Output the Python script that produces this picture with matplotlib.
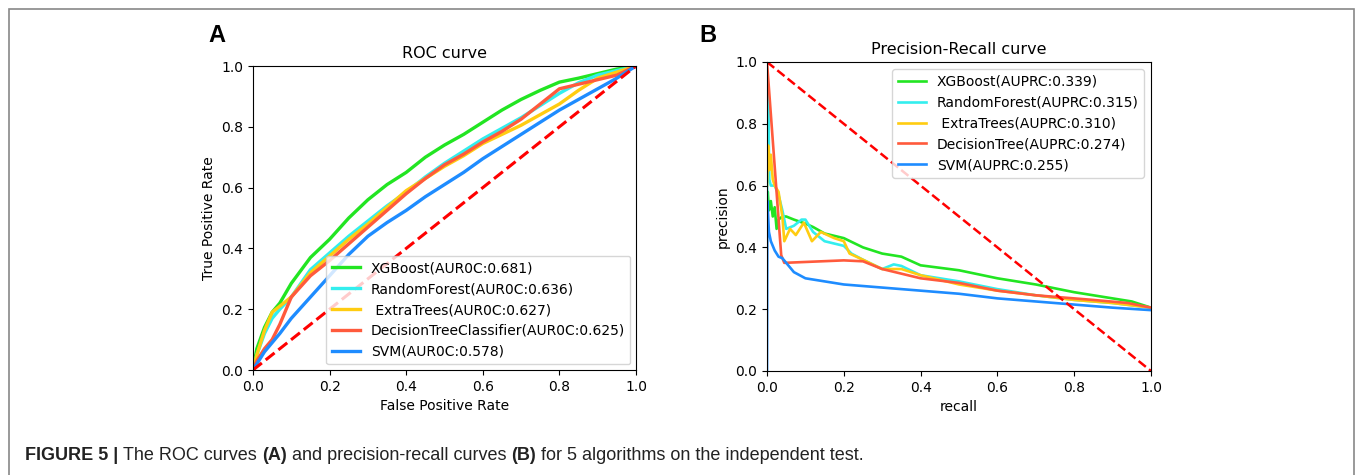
# ROC and precision-recall curves for 5 classifiers (figure 5 re-draw)

import matplotlib
matplotlib.use("Agg")
import matplotlib.pyplot as plt
from matplotlib.patches import Rectangle

# ----------------------------------------------------------------
# data
models_roc = ["XGBoost(AUR0C:0.681)", "RandomForest(AUR0C:0.636)",
              " ExtraTrees(AUR0C:0.627)", "DecisionTreeClassifier(AUR0C:0.625)",
              "SVM(AUR0C:0.578)"]
models_pr = ["XGBoost(AUPRC:0.339)", "RandomForest(AUPRC:0.315)",
             " ExtraTrees(AUPRC:0.310)", "DecisionTree(AUPRC:0.274)",
             "SVM(AUPRC:0.255)"]
colors = ["#22e522", "#33eeee", "#ffcc11", "#ff5a3c", "#1e8cff"]

fpr = [0, 0.01, 0.03, 0.05, 0.07, 0.1, 0.15, 0.2, 0.25, 0.3, 0.35, 0.4,
       0.45, 0.5, 0.55, 0.6, 0.65, 0.7, 0.75, 0.8, 0.85, 0.9, 0.95, 1.0]
tpr_xgb = [0, 0.07, 0.14, 0.19, 0.22, 0.285, 0.37, 0.43, 0.5, 0.56, 0.61, 0.65,
           0.70, 0.74, 0.775, 0.815, 0.855, 0.89, 0.92, 0.947, 0.96, 0.975, 0.99, 1.0]
tpr_rf = [0, 0.05, 0.12, 0.17, 0.2, 0.24, 0.33, 0.385, 0.44, 0.49, 0.54, 0.585,
          0.635, 0.68, 0.72, 0.76, 0.795, 0.83, 0.87, 0.91, 0.945, 0.97, 0.985, 1.0]
tpr_et = [0, 0.05, 0.13, 0.19, 0.21, 0.24, 0.32, 0.375, 0.43, 0.48, 0.535, 0.59,
          0.63, 0.67, 0.705, 0.745, 0.775, 0.805, 0.84, 0.875, 0.92, 0.96, 0.98, 1.0]
tpr_dt = [0, 0.03, 0.07, 0.10, 0.15, 0.24, 0.31, 0.36, 0.415, 0.47, 0.525, 0.58,
          0.63, 0.675, 0.71, 0.75, 0.785, 0.825, 0.875, 0.925, 0.94, 0.955, 0.97, 1.0]
tpr_svm = [0, 0.02, 0.06, 0.09, 0.12, 0.17, 0.24, 0.31, 0.38, 0.44, 0.485, 0.525,
           0.57, 0.61, 0.65, 0.695, 0.735, 0.775, 0.815, 0.855, 0.89, 0.925, 0.96, 1.0]

rec_xgb = [0, 0.002, 0.005, 0.01, 0.015, 0.02, 0.025, 0.03, 0.04, 0.05, 0.07, 0.1, 0.12,
           0.15, 0.2, 0.25, 0.3, 0.35, 0.4, 0.5, 0.6, 0.7, 0.8, 0.9, 0.95, 1.0]
prec_xgb = [0.5, 0.58, 0.52, 0.55, 0.5, 0.53, 0.46, 0.49, 0.5, 0.5, 0.49, 0.477, 0.466,
            0.445, 0.43, 0.40, 0.38, 0.37, 0.342, 0.326, 0.30, 0.28, 0.255, 0.235, 0.225, 0.205]
rec_rf = [0, 0.003, 0.006, 0.01, 0.02, 0.03, 0.04, 0.05, 0.07, 0.09, 0.1, 0.12, 0.15,
          0.2, 0.22, 0.25, 0.3, 0.33, 0.35, 0.4, 0.5, 0.6, 0.7, 0.8, 0.9, 1.0]
prec_rf = [0.55, 0.9, 0.62, 0.6, 0.6, 0.57, 0.52, 0.46, 0.47, 0.49, 0.49, 0.45, 0.42,
           0.405, 0.38, 0.36, 0.33, 0.345, 0.34, 0.31, 0.29, 0.265, 0.245, 0.23, 0.22, 0.205]
rec_et = [0, 0.003, 0.006, 0.01, 0.015, 0.02, 0.03, 0.04, 0.045, 0.06, 0.075, 0.096,
          0.117, 0.14, 0.175, 0.2, 0.215, 0.25, 0.3, 0.35, 0.4, 0.5, 0.6, 0.7, 0.8, 0.9, 1.0]
prec_et = [0.6, 0.73, 0.65, 0.7, 0.62, 0.6, 0.58, 0.5, 0.42, 0.46, 0.44, 0.48,
           0.42, 0.45, 0.43, 0.42, 0.38, 0.36, 0.33, 0.33, 0.31, 0.28, 0.26, 0.245, 0.23, 0.22, 0.205]
rec_dt = [0, 0.037, 0.045, 0.2, 0.25, 0.3, 0.4, 0.5, 0.6, 0.7, 0.8, 0.85, 0.94, 1.0]
prec_dt = [1.0, 0.375, 0.35, 0.358, 0.355, 0.33, 0.30, 0.285, 0.26, 0.245, 0.235, 0.23, 0.22, 0.205]
rec_svm = [0, 0.001, 0.005, 0.01, 0.02, 0.03, 0.04, 0.05, 0.07, 0.1, 0.15, 0.2, 0.3,
           0.4, 0.5, 0.6, 0.7, 0.8, 0.9, 1.0]
prec_svm = [0.0, 0.55, 0.45, 0.42, 0.39, 0.37, 0.365, 0.35, 0.32, 0.30, 0.29, 0.28, 0.27,
            0.26, 0.25, 0.235, 0.225, 0.215, 0.205, 0.197]

# caption pieces: (text, bold?)
caption_parts = [("FIGURE 5 | ", True), ("The ROC curves ", False), ("(A)", True),
                 (" and precision-recall curves ", False), ("(B)", True),
                 (" for 5 algorithms on the independent test.", False)]

# ----------------------------------------------------------------
W, H = 1355, 475
fig = plt.figure(figsize=(W / 100, H / 100), dpi=100)

# grey frame round the figure
fig.patches.append(Rectangle((9 / W, -0.05), (1354 - 9) / W, 1.05 - 9 / H,
                             transform=fig.transFigure, fill=False,
                             edgecolor="#888888", linewidth=1.2))

axA = fig.add_axes([253 / W, 1 - 370 / H, 383 / W, 304 / H])
axB = fig.add_axes([767 / W, 1 - 371 / H, 384 / W, 309 / H])

# ROC panel
rocs = [tpr_xgb, tpr_rf, tpr_et, tpr_dt, tpr_svm]
for name, tpr, c in zip(models_roc, rocs, colors):
    axA.plot(fpr, tpr, color=c, lw=2.4, label=name)
axA.plot([0, 1], [0, 1], color="red", lw=2.2, linestyle="--")
axA.set_xlim(0, 1)
axA.set_ylim(0, 1)
axA.set_title("ROC curve", fontsize=11.5)
axA.set_xlabel("False Positive Rate", fontsize=10)
axA.set_ylabel("True Positive Rate", fontsize=10)
axA.tick_params(labelsize=10)
axA.legend(loc="lower right", fontsize=10, handlelength=2.0, borderaxespad=0.4)

# PR panel
prs = [(rec_xgb, prec_xgb), (rec_rf, prec_rf), (rec_et, prec_et),
       (rec_dt, prec_dt), (rec_svm, prec_svm)]
for name, (r, p), c in zip(models_pr, prs, colors):
    axB.plot(r, p, color=c, lw=1.9, label=name)
axB.plot([0, 1], [1, 0], color="red", lw=1.8, linestyle="--")
axB.set_xlim(0, 1)
axB.set_ylim(0, 1)
axB.set_title("Precision-Recall curve", fontsize=11.5)
axB.set_xlabel("recall", fontsize=10)
axB.set_ylabel("precision", fontsize=10)
axB.tick_params(labelsize=10)
axB.legend(loc="upper right", fontsize=10, handlelength=2.0)

# panel letters
fig.text(217 / W, 1 - 36 / H, "A", fontsize=17, fontweight="bold",
         family="Liberation Sans", ha="center", va="center")
fig.text(708 / W, 1 - 36 / H, "B", fontsize=17, fontweight="bold",
         family="Liberation Sans", ha="center", va="center")

# caption, written piece by piece so the bold bits sit inline
fig.canvas.draw()
renderer = fig.canvas.get_renderer()
x = 25
for txt, bold in caption_parts:
    t = fig.text(x / W, 1 - 456 / H, txt, fontsize=13,
                 fontweight="bold" if bold else "normal",
                 family="Liberation Sans", va="center", color="#222222")
    x = t.get_window_extent(renderer).x1

fig.savefig("out.png", dpi=100)
